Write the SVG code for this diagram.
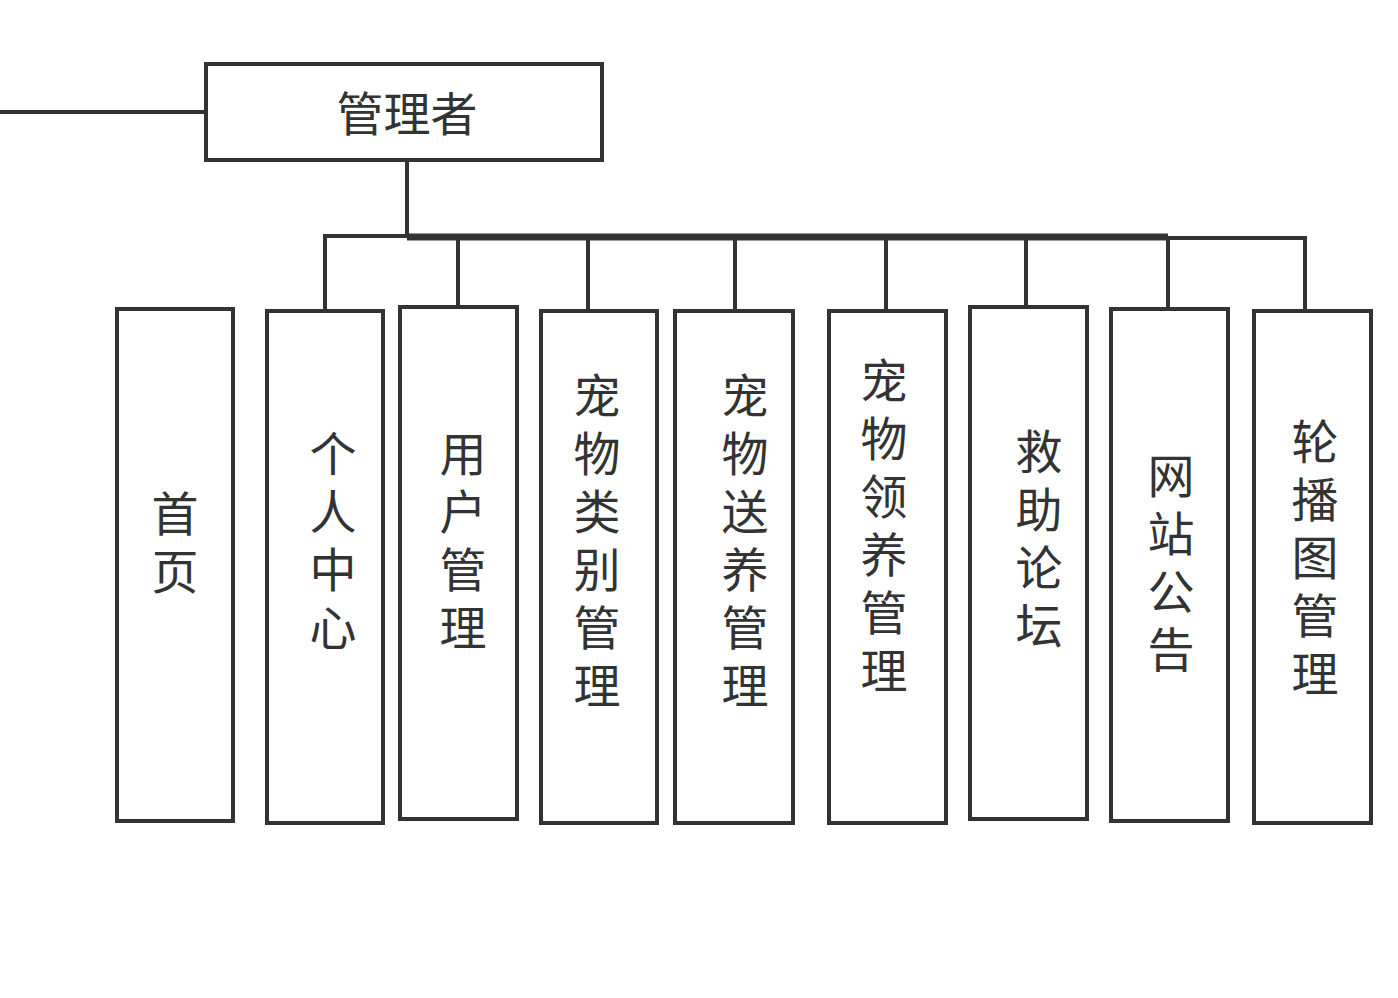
<svg xmlns="http://www.w3.org/2000/svg" width="1398" height="998" viewBox="0 0 1398 998">
<style>
.box{fill:#fff;stroke:#333;stroke-width:4}
.ln{fill:none;stroke:#333;stroke-width:4}
.t{font-family:"Noto Sans CJK SC","Noto Sans CJK JP",sans-serif;font-size:47px;fill:#333;text-anchor:middle;dominant-baseline:central}
</style>
<rect width="1398" height="998" fill="#fff"/>
<g id="connectors">
<line class="ln" x1="0" y1="112" x2="206" y2="112"/>
<line class="ln" x1="407" y1="160" x2="407" y2="237"/>
<line class="ln" x1="407" y1="237" x2="1168" y2="237" style="stroke-width:7"/>
<polyline class="ln" points="325,311 325,236 458,236"/>
<line class="ln" x1="458" y1="236" x2="458" y2="307"/>
<line class="ln" x1="588" y1="237" x2="588" y2="311"/>
<line class="ln" x1="735" y1="237" x2="735" y2="311"/>
<line class="ln" x1="886" y1="237" x2="886" y2="311"/>
<line class="ln" x1="1026" y1="237" x2="1026" y2="307"/>
<line class="ln" x1="1168" y1="237" x2="1168" y2="309"/>
<polyline class="ln" points="1168,238 1305,238 1305,311"/>
</g>
<g id="admin"><rect class="box" x="206" y="64" width="396" height="96"/><text class="t" x="407" y="110">管理者</text></g>
<g id="n1"><rect class="box" x="117" y="309" width="116" height="512"/><text class="t" x="175"><tspan x="175" y="510">首</tspan><tspan x="175" y="568">页</tspan></text></g>
<g id="n2"><rect class="box" x="267" y="311" width="116" height="512"/><text class="t"><tspan x="333" y="450">个</tspan><tspan x="333" y="508">人</tspan><tspan x="333" y="566">中</tspan><tspan x="333" y="624">心</tspan></text></g>
<g id="n3"><rect class="box" x="400" y="307" width="117" height="512"/><text class="t"><tspan x="463" y="450">用</tspan><tspan x="463" y="508">户</tspan><tspan x="463" y="566">管</tspan><tspan x="463" y="624">理</tspan></text></g>
<g id="n4"><rect class="box" x="541" y="311" width="116" height="512"/><text class="t"><tspan x="597" y="392">宠</tspan><tspan x="597" y="450">物</tspan><tspan x="597" y="508">类</tspan><tspan x="597" y="566">别</tspan><tspan x="597" y="624">管</tspan><tspan x="597" y="682">理</tspan></text></g>
<g id="n5"><rect class="box" x="675" y="311" width="118" height="512"/><text class="t"><tspan x="745" y="392">宠</tspan><tspan x="745" y="450">物</tspan><tspan x="745" y="508">送</tspan><tspan x="745" y="566">养</tspan><tspan x="745" y="624">管</tspan><tspan x="745" y="682">理</tspan></text></g>
<g id="n6"><rect class="box" x="829" y="311" width="117" height="512"/><text class="t"><tspan x="884" y="377">宠</tspan><tspan x="884" y="435">物</tspan><tspan x="884" y="493">领</tspan><tspan x="884" y="551">养</tspan><tspan x="884" y="609">管</tspan><tspan x="884" y="667">理</tspan></text></g>
<g id="n7"><rect class="box" x="970" y="307" width="117" height="512"/><text class="t"><tspan x="1039" y="448">救</tspan><tspan x="1039" y="506">助</tspan><tspan x="1039" y="564">论</tspan><tspan x="1039" y="622">坛</tspan></text></g>
<g id="n8"><rect class="box" x="1111" y="309" width="117" height="512"/><text class="t"><tspan x="1171" y="472">网</tspan><tspan x="1171" y="530">站</tspan><tspan x="1171" y="588">公</tspan><tspan x="1171" y="646">告</tspan></text></g>
<g id="n9"><rect class="box" x="1254" y="311" width="117" height="512"/><text class="t"><tspan x="1315" y="438">轮</tspan><tspan x="1315" y="496">播</tspan><tspan x="1315" y="554">图</tspan><tspan x="1315" y="612">管</tspan><tspan x="1315" y="670">理</tspan></text></g>
</svg>
